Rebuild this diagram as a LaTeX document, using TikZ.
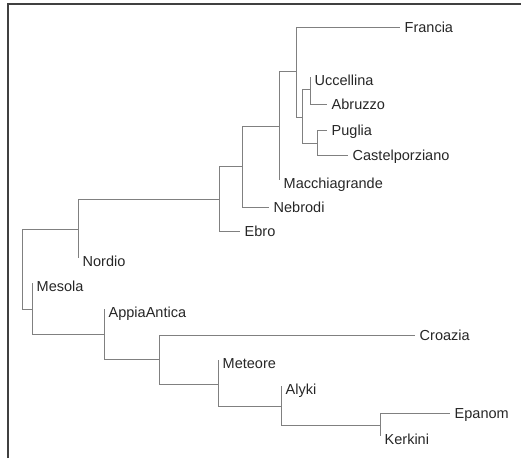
\documentclass[tikz,border=0pt]{standalone}
\usepackage{fontspec}
\setmainfont{Liberation Sans}

\tikzset{
  branch/.style = {draw=black!50, line width=1pt},
  frameline/.style = {draw=black!75, line width=1.5pt},
  leaf/.style = {anchor=west, inner xsep=4.5pt, inner ysep=0pt, text height=11pt, text depth=1pt,
                 text=black!85, font=\fontsize{14.5}{16}\selectfont}
}

\begin{document}
\begin{tikzpicture}[x=1pt,y=-1pt]
    \useasboundingbox (0,0) rectangle (521,458);
    \draw[frameline] (8,458) -- (8,4) -- (521,4);

    % inner nodes of the tree
    \coordinate (root) at (22,269);
    \coordinate (a) at (78,229);
    \coordinate (c) at (219,199);
    \coordinate (d) at (242,166);
    \coordinate (e) at (279,126);
    \coordinate (f) at (296,71);
    \coordinate (g) at (302,117);
    \coordinate (h) at (310,89);
    \coordinate (i) at (317,143);
    \coordinate (b) at (32,309);
    \coordinate (j) at (104,334);
    \coordinate (k) at (159,359);
    \coordinate (l) at (218,384);
    \coordinate (m) at (281,406);
    \coordinate (n) at (380,425);

    % leaves at the end of a branch
    \node[leaf](francia) at (400,27) {Francia};
    \node[leaf](abruzzo) at (327,104) {Abruzzo};
    \node[leaf](puglia) at (327,130) {Puglia};
    \node[leaf](castelporziano) at (348,155) {Castelporziano};
    \node[leaf](nebrodi) at (269,207) {Nebrodi};
    \node[leaf](ebro) at (240,231) {Ebro};
    \node[leaf](croazia) at (415,335) {Croazia};
    \node[leaf](epanom) at (450,413) {Epanom};

    % leaves sitting on the vertical line
    \node[leaf](uccellina) at (310,80.5) {Uccellina};
    \node[leaf](macchiagrande) at (279,183.5) {Macchiagrande};
    \node[leaf](nordio) at (78,261.5) {Nordio};
    \node[leaf](mesola) at (32,286.5) {Mesola};
    \node[leaf](appiaantica) at (104,312.5) {AppiaAntica};
    \node[leaf](meteore) at (218,363.5) {Meteore};
    \node[leaf](alyki) at (281,389.5) {Alyki};
    \node[leaf](kerkini) at (380,439.5) {Kerkini};

    \foreach \p/\q in {root/a, root/b, a/c, c/d, d/e, e/f, f/g, g/h, g/i, b/j, j/k, k/l, l/m, m/n}
        \draw[branch] (\p) |- (\q);
    \foreach \p/\q in {f/francia, h/abruzzo, i/puglia, i/castelporziano, d/nebrodi, c/ebro, k/croazia, n/epanom}
        \draw[branch] (\p) |- (\q.west);
    \foreach \p/\q in {h/uccellina, e/macchiagrande, a/nordio, b/mesola, j/appiaantica, l/meteore, m/alyki, n/kerkini}
        \draw[branch] (\p) |- ([yshift=3.5pt]\q.west);
\end{tikzpicture}
\end{document}
